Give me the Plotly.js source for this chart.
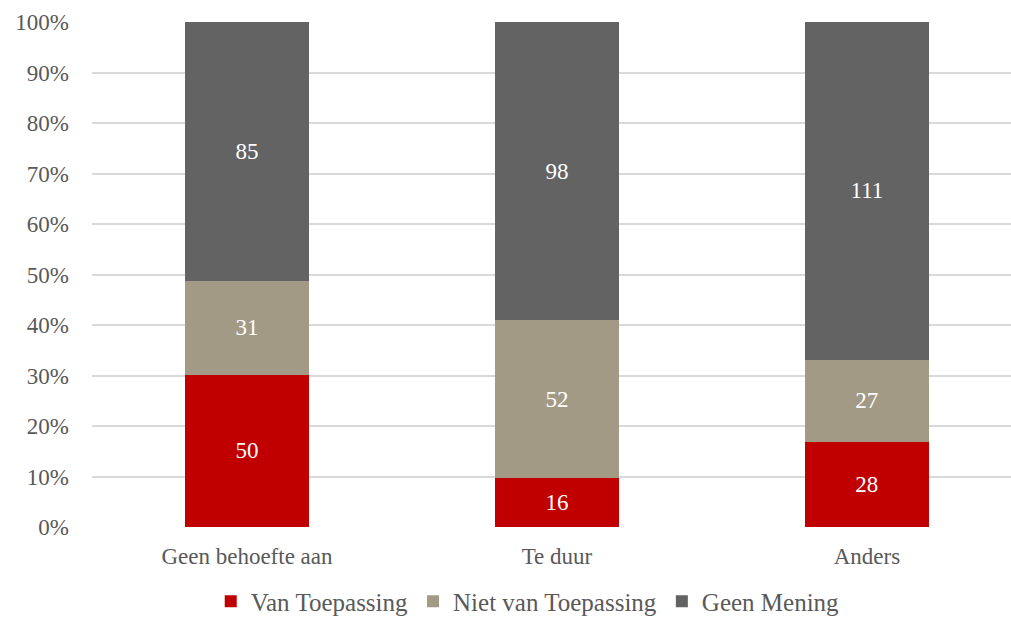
<!DOCTYPE html>
<html>
<head>
<meta charset="utf-8">
<script src="https://cdn.plot.ly/plotly-3.0.1.min.js"></script>
<style>html,body{margin:0;padding:0;background:#fff;overflow:hidden}</style>
</head>
<body>
<div id="chart" style="width:1011px;height:620px"></div>
<script>
const categories = ["Geen behoefte aan", "Te duur", "Anders"];
const vanToepassing = [50, 16, 28];
const nietVanToepassing = [31, 52, 27];
const geenMening = [85, 98, 111];
const seriesNames = ["Van Toepassing", "Niet van Toepassing", "Geen Mening"];
const seriesColors = ["#C00000", "#A39A85", "#636363"];

const font = "Liberation Serif, DejaVu Serif, serif";
const values = [vanToepassing, nietVanToepassing, geenMening];
const traces = values.map((v, i) => ({
  type: "bar",
  name: seriesNames[i],
  x: categories,
  y: v,
  text: v.map(String),
  textposition: "inside",
  insidetextanchor: "middle",
  textangle: 0,
  textfont: {family: font, size: 23, color: "#ffffff"},
  marker: {color: seriesColors[i], line: {width: 0}},
  width: 0.4,
  hoverinfo: "skip"
}));

const layout = {
  width: 1011, height: 620,
  margin: {l: 92, r: 0, t: 22, b: 93},
  barmode: "stack",
  barnorm: "percent",
  paper_bgcolor: "#ffffff",
  plot_bgcolor: "#ffffff",
  font: {family: font, color: "#595959", size: 23},
  xaxis: {range: [-0.5, 2.465], showgrid: false, zeroline: false, showline: false, ticks: "", ticklabelstandoff: 13, tickfont: {size: 23, color: "#595959"}},
  yaxis: {range: [0, 100], dtick: 10, ticksuffix: "%", showgrid: true, gridcolor: "#D9D9D9", gridwidth: 2, zeroline: false, showline: false, ticks: "", ticklabelstandoff: 22, tickfont: {size: 23, color: "#595959"}},
  showlegend: true,
  legend: {orientation: "h", xref: "container", yref: "container", x: 0.522, xanchor: "center", y: 0.03, yanchor: "middle", font: {size: 25, color: "#595959"}, traceorder: "normal", itemwidth: 30},
  uniformtext: {mode: false}
};

Plotly.newPlot("chart", traces, layout, {displayModeBar: false, staticPlot: true});
</script>
</body>
</html>
